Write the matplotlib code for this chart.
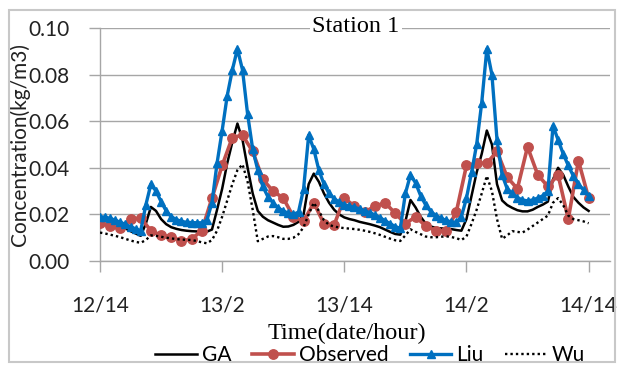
import numpy as np
import matplotlib
matplotlib.use('Agg')
import matplotlib.pyplot as plt
from matplotlib.patches import Rectangle

# hours since 12/14; models every half hour, observations every hour
model_hours = np.arange(0, 48.5, 0.5)
obs_hours = np.arange(0, 49, 1)

ga = [0.0180, 0.0175, 0.0168, 0.0160, 0.0150, 0.0140, 0.0128, 0.0118, 0.0108, 0.0160,
      0.0232, 0.0215, 0.0180, 0.0158, 0.0145, 0.0138, 0.0133, 0.0130, 0.0128, 0.0127,
      0.0126, 0.0126, 0.0135, 0.0220, 0.0310, 0.0420, 0.0510, 0.0590, 0.0520, 0.0400,
      0.0290, 0.0215, 0.0190, 0.0175, 0.0165, 0.0155, 0.0147, 0.0148, 0.0155, 0.0168,
      0.0200, 0.0330, 0.0375, 0.0340, 0.0290, 0.0250, 0.0220, 0.0200, 0.0187, 0.0180,
      0.0175, 0.0168, 0.0163, 0.0158, 0.0152, 0.0145, 0.0135, 0.0125, 0.0116, 0.0113,
      0.0170, 0.0262, 0.0230, 0.0190, 0.0160, 0.0148, 0.0142, 0.0140, 0.0139, 0.0137,
      0.0133, 0.0130, 0.0180, 0.0280, 0.0380, 0.0460, 0.0560, 0.0500, 0.0330, 0.0260,
      0.0240, 0.0228, 0.0218, 0.0213, 0.0213, 0.0220, 0.0232, 0.0242, 0.0255, 0.0350,
      0.0400, 0.0370, 0.0320, 0.0275, 0.0250, 0.0230, 0.0215]

liu = [0.0190, 0.0188, 0.0183, 0.0175, 0.0166, 0.0157, 0.0147, 0.0138, 0.0130, 0.0240,
       0.0330, 0.0300, 0.0255, 0.0215, 0.0190, 0.0178, 0.0170, 0.0166, 0.0165, 0.0164,
       0.0164, 0.0175, 0.0250, 0.0420, 0.0560, 0.0710, 0.0820, 0.0910, 0.0820, 0.0630,
       0.0480, 0.0390, 0.0320, 0.0275, 0.0250, 0.0228, 0.0215, 0.0205, 0.0200, 0.0210,
       0.0310, 0.0540, 0.0480, 0.0390, 0.0330, 0.0290, 0.0268, 0.0252, 0.0242, 0.0236,
       0.0230, 0.0224, 0.0216, 0.0207, 0.0198, 0.0186, 0.0173, 0.0160, 0.0148, 0.0140,
       0.0290, 0.0370, 0.0335, 0.0280, 0.0240, 0.0212, 0.0195, 0.0184, 0.0174, 0.0168,
       0.0166, 0.0190, 0.0270, 0.0380, 0.0500, 0.0680, 0.0910, 0.0800, 0.0520, 0.0370,
       0.0310, 0.0290, 0.0272, 0.0262, 0.0258, 0.0262, 0.0270, 0.0280, 0.0300, 0.0580,
       0.0520, 0.0460, 0.0410, 0.0365, 0.0330, 0.0305, 0.0280]

wu = [0.0122, 0.0118, 0.0113, 0.0108, 0.0102, 0.0095, 0.0088, 0.0082, 0.0078, 0.0090,
      0.0110, 0.0108, 0.0104, 0.0100, 0.0097, 0.0094, 0.0092, 0.0091, 0.0090, 0.0086,
      0.0080, 0.0076, 0.0090, 0.0130, 0.0190, 0.0260, 0.0330, 0.0390, 0.0415, 0.0340,
      0.0220, 0.0085, 0.0095, 0.0105, 0.0107, 0.0102, 0.0095, 0.0095, 0.0100, 0.0115,
      0.0145, 0.0200, 0.0250, 0.0215, 0.0175, 0.0155, 0.0148, 0.0144, 0.0141, 0.0139,
      0.0137, 0.0134, 0.0130, 0.0125, 0.0119, 0.0112, 0.0104, 0.0096, 0.0089, 0.0086,
      0.0110, 0.0136, 0.0125, 0.0115, 0.0105, 0.0102, 0.0102, 0.0104, 0.0106, 0.0103,
      0.0098, 0.0090, 0.0105, 0.0160, 0.0220, 0.0290, 0.0365, 0.0300, 0.0180, 0.0095,
      0.0110, 0.0128, 0.0125, 0.0122, 0.0135, 0.0150, 0.0165, 0.0180, 0.0195, 0.0250,
      0.0270, 0.0240, 0.0195, 0.0180, 0.0175, 0.0170, 0.0162]

observed = [0.0165, 0.0150, 0.0140, 0.0180, 0.0185, 0.0130, 0.0110, 0.0105, 0.0085, 0.0095,
            0.0130, 0.0270, 0.0410, 0.0530, 0.0540, 0.0470, 0.0350, 0.0300, 0.0270, 0.0190,
            0.0170, 0.0250, 0.0160, 0.0155, 0.0270, 0.0235, 0.0210, 0.0235, 0.0250, 0.0205,
            0.0160, 0.0190, 0.0150, 0.0130, 0.0130, 0.0210, 0.0410, 0.0420, 0.0420, 0.0470,
            0.0360, 0.0310, 0.0490, 0.0370, 0.0320, 0.0370, 0.0180, 0.0430, 0.0270]

tick_hours = [0, 12, 24, 36, 48]
tick_labels = ['12/14', '13/2', '13/14', '14/2', '14/14']

grey = '#a6a6a6'
sans = 'Lato'
serif = 'Liberation Serif'

fig = plt.figure(figsize=(6.19, 3.67), dpi=100)
# light frame around the whole chart, like the excel chart area
fig.patches.append(Rectangle((9/619, 5/367), 606/619, 352/367, transform=fig.transFigure,
                             fill=False, edgecolor='#c8c8c8', linewidth=1.5))

ax = fig.add_axes([100/619, 1 - 261/367, 510/619, 233/367])

ax.plot(model_hours, ga, color='black', linewidth=1.8, label='GA', zorder=3)
ax.plot(obs_hours, observed, color='#c0504d', linewidth=2.6, marker='o', markersize=6.8,
        label='Observed', zorder=4)
ax.plot(model_hours, liu, color='#0070c0', linewidth=2.4, marker='^', markersize=6,
        label='Liu', zorder=5)
ax.plot(model_hours, wu, color='black', linewidth=1.7, linestyle=(0, (1, 1.3)),
        label='Wu', zorder=6)

ax.set_xlim(0, 50.1)
ax.set_ylim(0, 0.10)
ax.set_yticks(np.arange(0, 0.101, 0.02))
ax.set_yticklabels(['%.2f' % v for v in np.arange(0, 0.101, 0.02)])
ax.set_xticks(tick_hours)
ax.set_xticklabels(tick_labels)

ax.grid(axis='y', color=grey, linewidth=1.0, zorder=0)
ax.set_axisbelow(True)
for side in ['top', 'right']:
    ax.spines[side].set_visible(False)
for side in ['left', 'bottom']:
    ax.spines[side].set_color(grey)
    ax.spines[side].set_linewidth(1.0)

ax.tick_params(axis='both', direction='out', length=8, width=1, color=grey,
               labelsize=15, labelcolor='#222222')
ax.tick_params(axis='y', pad=14)
ax.tick_params(axis='x', pad=17)
for lab in ax.get_xticklabels() + ax.get_yticklabels():
    lab.set_family(sans)

ax.set_ylabel('Concentration(kg/m3)', fontsize=15, family=sans, color='#222222', va='center')
ax.yaxis.set_label_coords(-0.157, 0.5)
ax.set_xlabel('Time(date/hour)', fontsize=17.5, family=serif, color='black', va='center')
ax.xaxis.set_label_coords(0.484, -0.309)

ax.text(0.502, 1.005, 'Station 1', transform=ax.transAxes, ha='center', va='center',
        fontsize=17.5, family=serif, color='black',
        bbox=dict(facecolor='white', edgecolor='none', pad=2), zorder=10)

fig.legend(loc='center', bbox_to_anchor=(370/619, 12/367), ncol=4, frameon=False,
           prop={'family': sans, 'size': 15}, handlelength=2.0, handletextpad=0.25,
           columnspacing=1.0, borderpad=0)

fig.savefig('out.png', dpi=100)
